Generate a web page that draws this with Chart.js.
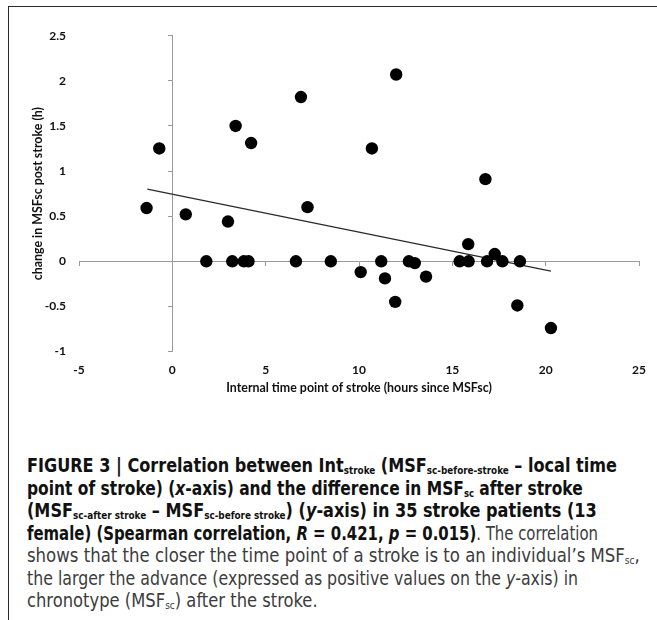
<!DOCTYPE html>
<html><head><meta charset="utf-8">
<script src="https://cdn.jsdelivr.net/npm/chart.js@4.4.1/dist/chart.umd.min.js"></script>
<style>
html,body{margin:0;padding:0;background:#fff;}
#wrap{position:relative;width:657px;height:620px;overflow:hidden;background:#fff;}
#frame{position:absolute;left:8px;top:6px;width:700px;height:700px;border-left:1.5px solid #2b2b2b;border-top:1.5px solid #2b2b2b;}
#cv{position:absolute;left:0;top:0;}
.cap{position:absolute;left:27px;font-family:"Liberation Sans Narrow","Arial Narrow","DejaVu Sans Condensed","Liberation Sans",sans-serif;font-size:19px;line-height:22px;height:22px;white-space:nowrap;color:#3c3c3c;transform-origin:0 50%;}
.cap b{color:#111;}
.cap sub{font-size:0.55em;vertical-align:-0.2em;line-height:0;}
</style></head>
<body>
<div id="wrap">
<div id="frame"></div>
<canvas id="cv" width="657" height="400"></canvas>
<div class="cap" data-r="617" style="top:454px"><b>FIGURE 3 | Correlation between Int<sub>stroke</sub> (MSF<sub>sc-before-stroke</sub> – local time</b></div>
<div class="cap" data-r="583" style="top:477px"><b>point of stroke) (<i>x</i>-axis) and the difference in MSF<sub>sc</sub> after stroke</b></div>
<div class="cap" data-r="597" style="top:499px"><b>(MSF<sub>sc-after stroke</sub> – MSF<sub>sc-before stroke</sub>) (<i>y</i>-axis) in 35 stroke patients (13</b></div>
<div class="cap" data-r="598" style="top:522px"><b>female) (Spearman correlation, <i>R</i> = 0.421, <i>p</i> = 0.015)</b>. The correlation</div>
<div class="cap" data-r="640" style="top:544px">shows that the closer the time point of a stroke is to an individual’s MSF<sub>sc</sub>,</div>
<div class="cap" data-r="578" style="top:567px">the larger the advance (expressed as positive values on the <i>y</i>-axis) in</div>
<div class="cap" data-r="318" style="top:589px">chronotype (MSF<sub>sc</sub>) after the stroke.</div>
</div>
<script>
// Internal time point of stroke (hours since MSFsc)
const xValues = [-1.38, -0.70, 0.72, 1.82, 2.98, 3.21, 3.39, 3.83, 4.08, 4.22, 6.62, 6.89, 7.24, 8.49, 10.09, 10.69, 11.19, 11.39, 11.99, 11.94, 12.67, 12.99, 13.59, 15.39, 15.85, 15.87, 16.86, 16.77, 17.27, 17.68, 18.62, 18.48, 20.28];
// change in MSFsc post stroke (h)
const yValues = [0.59, 1.25, 0.52, 0, 0.44, 0, 1.50, 0, 0, 1.31, 0, 1.82, 0.60, 0, -0.12, 1.25, 0, -0.19, 2.07, -0.45, 0, -0.02, -0.17, 0, 0.19, 0, 0, 0.91, 0.08, 0, 0, -0.49, -0.74];
// linear trend line end points
const trendX = [-1.34, 20.28];
const trendY = [0.80, -0.11];
const xTicks = [-5, 0, 5, 10, 15, 20, 25];
const yTicks = [-1, -0.5, 0, 0.5, 1, 1.5, 2, 2.5];

const tickFont = {family: 'Lato, "Open Sans", sans-serif', size: 12, weight: 'bold'};
const titleFont = {family: 'Lato, "Open Sans", sans-serif', size: 12.4, weight: 'bold'};
const setTicks = arr => s => { s.ticks = arr.map(v => ({value: v})); };
const fmt = v => String(v);

new Chart(document.getElementById('cv'), {
  type: 'scatter',
  data: {
    datasets: [
      {
        label: 'patients',
        data: xValues.map((x, i) => ({x: x, y: yValues[i]})),
        pointRadius: 6.2,
        pointBackgroundColor: '#000',
        pointBorderColor: '#000',
        pointBorderWidth: 0,
        order: 1
      },
      {
        label: 'trend',
        data: trendX.map((x, i) => ({x: x, y: trendY[i]})),
        showLine: true,
        pointRadius: 0,
        borderColor: '#2a2a2a',
        borderWidth: 1.2,
        fill: false,
        order: 2
      }
    ]
  },
  options: {
    responsive: false,
    animation: false,
    devicePixelRatio: 1,
    layout: {padding: {left: 0, right: 14.5, top: 35.7, bottom: 0}},
    plugins: {legend: {display: false}, tooltip: {enabled: false}},
    scales: {
      x: {
        type: 'linear', min: -5, max: 25,
        afterBuildTicks: setTicks(xTicks),
        afterFit: s => { s.height = 48.5; },
        grid: {display: false, drawTicks: false},
        border: {display: false},
        ticks: {font: tickFont, color: '#111', padding: 11, callback: fmt},
        title: {display: true, text: 'Internal time point of stroke (hours since MSFsc)', font: titleFont, color: '#111', padding: {top: 0, bottom: 4.8}}
      },
      y: {
        type: 'linear', min: -1, max: 2.5,
        afterBuildTicks: setTicks(yTicks),
        afterFit: s => { s.width = 79; },
        grid: {display: false, drawTicks: false},
        border: {display: false},
        ticks: {font: tickFont, color: '#111', padding: 13, callback: fmt},
        title: {display: true, text: 'change in MSFsc post stroke (h)', font: titleFont, color: '#111', padding: {top: 30.5, bottom: 0}}
      },
      x2: {
        type: 'linear', axis: 'x', min: -5, max: 25,
        position: {y: 0},
        afterBuildTicks: setTicks(xTicks),
        ticks: {display: false},
        grid: {display: true, drawOnChartArea: false, drawTicks: true, tickLength: 4, color: '#9a9a9a', lineWidth: 1},
        border: {display: true, color: '#9a9a9a', width: 1}
      },
      y2: {
        type: 'linear', axis: 'y', min: -1, max: 2.5,
        position: {x: 0},
        afterBuildTicks: setTicks(yTicks),
        ticks: {display: false},
        grid: {display: true, drawOnChartArea: false, drawTicks: true, tickLength: 4, color: '#9a9a9a', lineWidth: 1},
        border: {display: true, color: '#9a9a9a', width: 1}
      }
    }
  }
});

document.querySelectorAll('.cap').forEach(el => {
  const target = parseFloat(el.dataset.r) - 27;
  const w = el.scrollWidth;
  if (w > 0) el.style.transform = 'scaleX(' + (target / w) + ')';
});
</script>
</body></html>
